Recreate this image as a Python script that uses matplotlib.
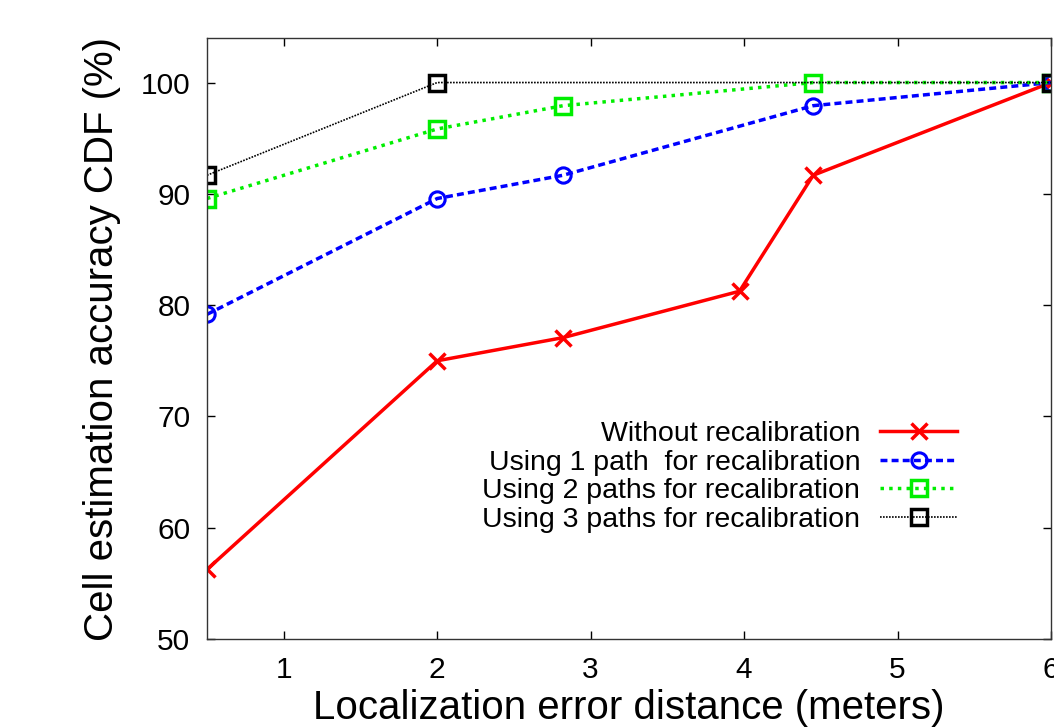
import numpy as np
import matplotlib.pyplot as plt

plt.rcParams['font.family'] = ['Liberation Sans', 'DejaVu Sans']

# localization error distance (m) and cell estimation accuracy CDF (%)
x_none = [0.5, 2, 2.82, 3.97, 4.45, 6]
y_none = [56.25, 75.0, 77.08, 81.25, 91.67, 100.0]

x_one = [0.5, 2, 2.82, 4.45, 6]
y_one = [79.17, 89.58, 91.67, 97.92, 100.0]

x_two = [0.5, 2, 2.82, 4.45, 6]
y_two = [89.58, 95.83, 97.92, 100.0, 100.0]

x_three = [0.5, 2, 6]
y_three = [91.67, 100.0, 100.0]

labels = ["Without recalibration",
          "Using 1 path  for recalibration",
          "Using 2 paths for recalibration",
          "Using 3 paths for recalibration"]

fig = plt.figure(figsize=(10.54, 7.27), dpi=100)
ax = fig.add_axes([0.1964, 0.121, 0.8008, 0.8267])

ax.plot(x_none, y_none, color='#ff0000', lw=2.5, marker='x', ms=11, mew=2.5,
        label=labels[0])
ax.plot(x_one, y_one, color='#0000ff', lw=2.5, ls=(0, (2, 1.2)), marker='o', ms=11,
        mfc='none', mew=2.2, label=labels[1])
ax.plot(x_two, y_two, color='#00ee00', lw=2.5, ls=(0, (1, 1.5)), marker='s', ms=11,
        mfc='none', mew=2.5, label=labels[2])
ax.plot(x_three, y_three, color='black', lw=1.2, ls=(0, (1, 0.8)), marker='s', ms=11,
        mfc='none', mew=2.5, label=labels[3])

ax.set_xlim(0.5, 6)
ax.set_ylim(50, 104)
ax.set_xticks([1, 2, 3, 4, 5, 6])
ax.set_yticks([50, 60, 70, 80, 90, 100])
ax.tick_params(direction='in', top=True, right=True, length=6, width=1,
               labelsize=21.5, pad=12)
for s in ax.spines.values():
    s.set_linewidth(1.0)
    s.set_color('#333333')

ax.set_xlabel("Localization error distance (meters)", fontsize=29, labelpad=4)
ax.set_ylabel("Cell estimation accuracy CDF (%)", fontsize=29, labelpad=14)

leg = ax.legend(loc='lower right', bbox_to_anchor=(0.902, 0.157), frameon=False,
                markerfirst=False, fontsize=20.5, handlelength=2.7,
                labelspacing=0.1, handletextpad=0.7, borderaxespad=0)
for t in leg.get_texts():
    t.set_ha('right')

fig.savefig('out.png', dpi=100)
